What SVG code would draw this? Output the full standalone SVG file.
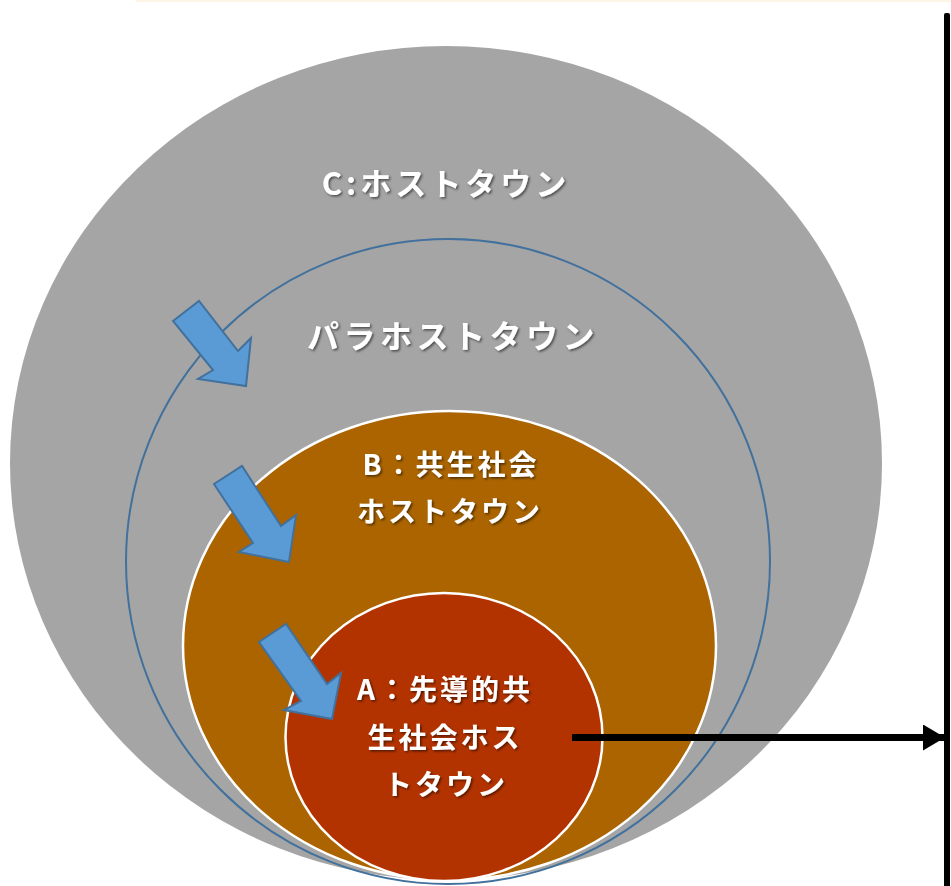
<svg xmlns="http://www.w3.org/2000/svg" width="951" height="886" viewBox="0 0 951 886">
<defs>
<filter id="sh" x="-10%" y="-20%" width="130%" height="150%">
<feDropShadow dx="1.5" dy="1.5" stdDeviation="1" flood-color="#000" flood-opacity="0.55"/>
</filter>
<marker id="ah" markerUnits="userSpaceOnUse" markerWidth="24" markerHeight="28" refX="22" refY="13" orient="auto">
<path d="M0,0 L22,13 L0,26 Z" fill="#000"/>
</marker>
</defs>
<style>
.lbl{font-family:"Noto Sans CJK JP","Noto Sans",sans-serif;font-weight:bold;fill:#fff;text-anchor:middle;filter:url(#sh)}
.barrow{fill:#5b9bd5;stroke:#41719c;stroke-width:2;stroke-linejoin:miter}
</style>
<rect x="136" y="0" width="815" height="2" fill="#fdf5e6"/>
<g id="nodeC">
<ellipse cx="446" cy="463" rx="436" ry="417" fill="#a5a5a5"/>
<text class="lbl" x="446" y="195" font-size="31" letter-spacing="4">C:ホストタウン</text>
</g>
<g id="nodePara">
<ellipse cx="448" cy="561.5" rx="322" ry="322.5" fill="none" stroke="#41719c" stroke-width="2"/>
<text class="lbl" x="453" y="348" font-size="32" letter-spacing="4.5">パラホストタウン</text>
</g>
<g id="nodeB">
<ellipse cx="449.5" cy="645.5" rx="266.5" ry="234.5" fill="#ab6400" stroke="#fff" stroke-width="2.5"/>
<text class="lbl" x="451" y="475" font-size="28" letter-spacing="3">B：共生社会</text>
<text class="lbl" x="450" y="522" font-size="28" letter-spacing="3">ホストタウン</text>
</g>
<g id="nodeA">
<ellipse cx="444" cy="737" rx="158.5" ry="144" fill="#b33300" stroke="#fff" stroke-width="2.5"/>
<text class="lbl" x="445" y="700" font-size="28" letter-spacing="3">A：先導的共</text>
<text class="lbl" x="445" y="748" font-size="28" letter-spacing="3">生社会ホス</text>
<text class="lbl" x="446" y="795" font-size="28" letter-spacing="3">トタウン</text>
</g>
<g id="connectors">
<polygon class="barrow" points="173,321 199,301 238,351 251,338 246,386 198,379 213,370"/>
<polygon class="barrow" points="214,484 242,466 281,526 296,515 289,562 239,552 253,543"/>
<polygon class="barrow" points="259,642 286,624 327,684 341,673 332,719 284,710 301,701"/>
<line x1="572" y1="737.5" x2="945" y2="737.5" stroke="#000" stroke-width="7" marker-end="url(#ah)"/>
<rect x="944" y="13" width="6" height="880" rx="2" fill="#000"/>
</g>
</svg>
